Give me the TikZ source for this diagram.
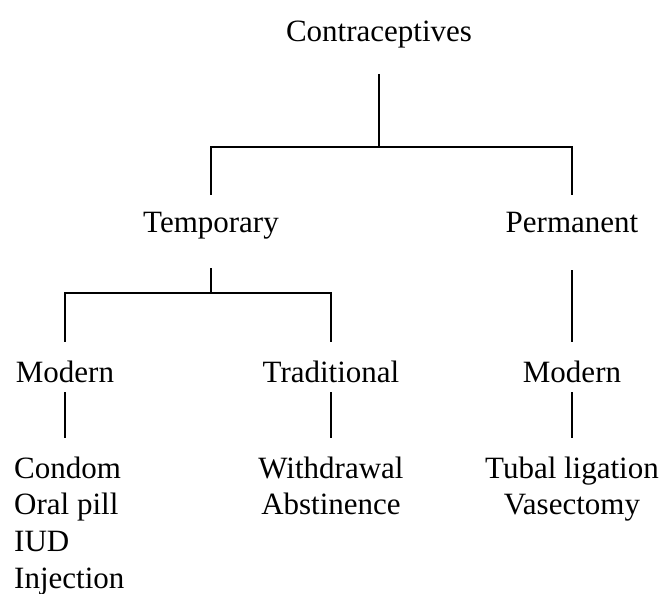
\documentclass[tikz,border=0pt]{standalone}
\usepackage{fontspec}
\setmainfont{Liberation Serif}
\begin{document}
\begin{tikzpicture}[
x=1pt, y=-1pt,
font=\fontsize{31pt}{36.7pt}\selectfont,
item/.style={anchor=base,inner sep=0pt,text height=21.7pt,text depth=6.8pt},
lefty/.style={item,anchor=base west},
link/.style={line width=1.2pt}
]
\useasboundingbox (0,0) rectangle (665,594);

\node[item] (root) at (379,42) {Contraceptives};
\node[item] (temp) at (211,232) {Temporary};
\node[item] (perm) at (572,232) {Permanent};
\node[item] (mod1) at (65,382) {Modern};
\node[item] (trad) at (331,382) {Traditional};
\node[item] (mod2) at (572,382) {Modern};

% methods
\node[lefty] (cond) at (14,478) {Condom};
\node[lefty] (pill) at (14,514.7) {Oral pill};
\node[lefty] (iud) at (14,551.4) {IUD};
\node[lefty] (inj) at (14,588.1) {Injection};
\node[item] (withd) at (331,478) {Withdrawal};
\node[item] (abst) at (331,514.7) {Abstinence};
\node[item] (tubal) at (572,478) {Tubal ligation};
\node[item] (vas) at (572,514.7) {Vasectomy};

\coordinate (j1) at (379,147);
\coordinate (j2) at (211,293);

\draw[link,shorten <=25pt] (root.south) -- (j1);
\draw[link,shorten >=15pt] (j1) -| (temp.north);
\draw[link,shorten >=15pt] (j1) -| (perm.north);
\draw[link,shorten <=29pt] (temp.south) -- (j2);
\draw[link,shorten >=18pt] (j2) -| (mod1.north);
\draw[link,shorten >=18pt] (j2) -| (trad.north);
\draw[link,shorten <=31pt,shorten >=18pt] (perm.south) -- (mod2.north);
\draw[link,shorten <=3pt,shorten >=18pt] (mod1.south) -- (mod1 |- cond.north);
\draw[link,shorten <=3pt,shorten >=18pt] (trad.south) -- (withd.north);
\draw[link,shorten <=3pt,shorten >=18pt] (mod2.south) -- (tubal.north);
\end{tikzpicture}
\end{document}
